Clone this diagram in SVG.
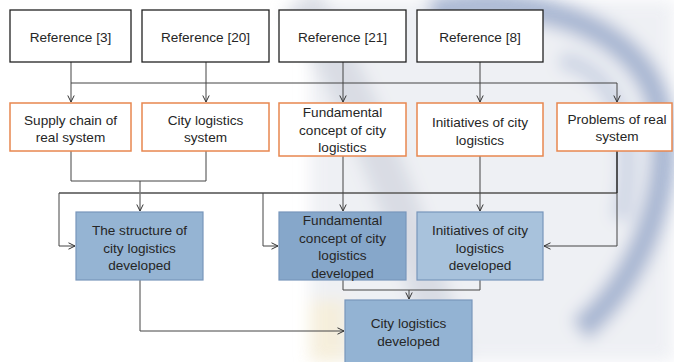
<svg xmlns="http://www.w3.org/2000/svg" width="674" height="362" viewBox="0 0 674 362">
<defs>
<style>
.t{font-family:"Liberation Sans",Arial,sans-serif;font-size:13.6px;fill:#262626;text-anchor:middle}
.ref{fill:#fff;stroke:#222;stroke-width:1.3}
.mid{fill:#fff;stroke:#e8874f;stroke-width:1.5}
.dev{stroke:#7896bb;stroke-width:1.2}
.c{fill:none;stroke:#444;stroke-width:1}
.ca{fill:none;stroke:#444;stroke-width:1;marker-end:url(#ah)}
</style>
<marker id="ah" viewBox="0 0 8 8" refX="7.5" refY="4" markerWidth="8" markerHeight="8" markerUnits="userSpaceOnUse" orient="auto">
<path d="M1,0.8 L7.5,4 L1,7.2" fill="none" stroke="#333" stroke-width="1"/>
</marker>
<filter id="blur" x="-20%" y="-20%" width="140%" height="140%"><feGaussianBlur stdDeviation="8"/></filter>
</defs>
<rect width="674" height="362" fill="#fff"/>
<g id="watermark" filter="url(#blur)" opacity="0.85">
<rect x="310" y="0" width="364" height="362" fill="#eceef3"/>
<path d="M300,0 C360,90 420,250 450,362" fill="none" stroke="#d3d7e0" stroke-width="40"/>
<path d="M430,12 C520,-8 640,20 660,110 C675,190 640,280 580,330" fill="none" stroke="#9aaacb" stroke-width="26"/>
<path d="M560,60 C620,70 640,140 620,220" fill="none" stroke="#c4cde0" stroke-width="18"/>
<rect x="310" y="300" width="36" height="62" fill="#f4ecd6"/>
</g>
<g id="connectors">
<path class="c" d="M71,62 V83 H617"/>
<path class="ca" d="M71,83 V102"/>
<path class="ca" d="M617,83 V102"/>
<path class="ca" d="M206,62 V102"/>
<path class="ca" d="M343,62 V102"/>
<path class="ca" d="M480,62 V102"/>
<path class="c" d="M71,151 V181 H206 V151"/>
<path class="ca" d="M140,181 V211"/>
<path d="M59,193 H617" fill="none" stroke="#7a7a7a" stroke-width="2"/>
<path class="c" d="M617,151 V193" style="stroke:#222;stroke-width:1.5"/>
<path class="ca" d="M617,193 V246 H544"/>
<path class="ca" d="M59,193 V246 H75"/>
<path class="ca" d="M263,193 V246 H278"/>
<path class="ca" d="M343,156 V211"/>
<path class="ca" d="M480,156 V211"/>
<path class="c" d="M343,280 V290 H480 V280"/>
<path class="ca" d="M409,290 V299"/>
<path class="ca" d="M140,280 V331 H344"/>
</g>
<g id="ref3"><rect class="ref" x="10" y="10" width="121" height="52"/><text class="t" x="70.5" y="41.5">Reference [3]</text></g>
<g id="ref20"><rect class="ref" x="142" y="10" width="127" height="52"/><text class="t" x="205.5" y="41.5">Reference [20]</text></g>
<g id="ref21"><rect class="ref" x="279" y="10" width="127" height="52"/><text class="t" x="342.5" y="41.5">Reference [21]</text></g>
<g id="ref8"><rect class="ref" x="417" y="10" width="126" height="52"/><text class="t" x="480" y="41.5">Reference [8]</text></g>
<g id="supply"><rect class="mid" x="10" y="103" width="121" height="48"/><text class="t" x="70.5" y="124.5">Supply chain of</text><text class="t" x="70.5" y="141.5">real system</text></g>
<g id="citysys"><rect class="mid" x="142" y="103" width="127" height="48"/><text class="t" x="205.5" y="124.5">City logistics</text><text class="t" x="205.5" y="141.5">system</text></g>
<g id="fund"><rect class="mid" x="279" y="103" width="127" height="53"/><text class="t" x="342.5" y="117">Fundamental</text><text class="t" x="342.5" y="135">concept of city</text><text class="t" x="342.5" y="152">logistics</text></g>
<g id="init"><rect class="mid" x="417" y="103" width="126" height="53"/><text class="t" x="480" y="126.5">Initiatives of city</text><text class="t" x="480" y="144.5">logistics</text></g>
<g id="problems"><rect class="mid" x="557" y="103" width="115" height="48"/><text class="t" x="617" y="123.5">Problems of real</text><text class="t" x="617" y="141">system</text></g>
<g id="structdev"><rect class="dev" x="76" y="212" width="127" height="68" fill="#95b4d3"/><text class="t" x="139.5" y="234.5">The structure of</text><text class="t" x="139.5" y="252.5">city logistics</text><text class="t" x="139.5" y="269.5">developed</text></g>
<g id="funddev"><rect class="dev" x="279" y="212" width="127" height="68" fill="#86a7ca"/><text class="t" x="342.5" y="225">Fundamental</text><text class="t" x="342.5" y="243">concept of city</text><text class="t" x="342.5" y="260">logistics</text><text class="t" x="342.5" y="277.5">developed</text></g>
<g id="initdev"><rect class="dev" x="417" y="212" width="126" height="68" fill="#a8c2dc"/><text class="t" x="480" y="234.5">Initiatives of city</text><text class="t" x="480" y="252.5">logistics</text><text class="t" x="480" y="269.5">developed</text></g>
<g id="citydev"><rect class="dev" x="345" y="300" width="127" height="66" fill="#93b3d3"/><text class="t" x="408.5" y="327.5">City logistics</text><text class="t" x="408.5" y="346">developed</text></g>
</svg>
